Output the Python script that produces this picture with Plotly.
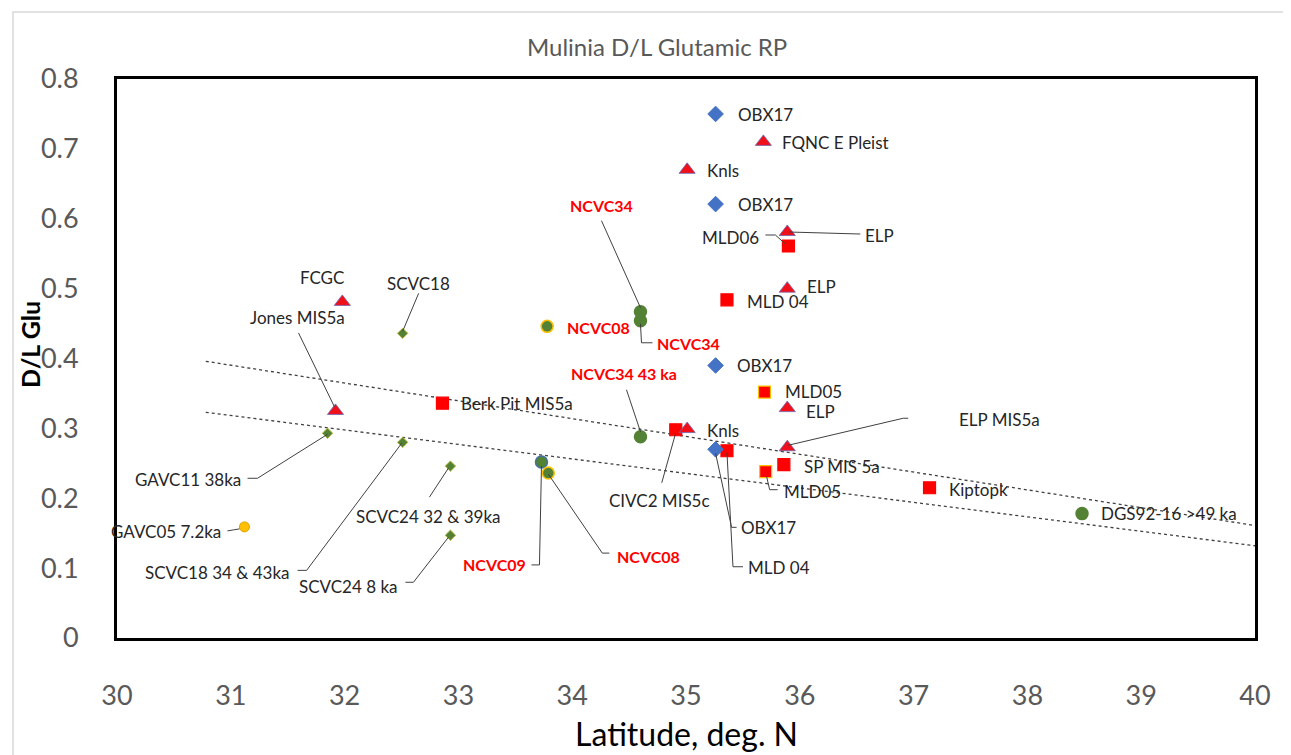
import plotly.graph_objects as go

# ---------------- data ----------------
# Blue diamonds (OBX17)
blue_lbl = ["OBX17", "OBX17", "OBX17", "OBX17"]
blue_lat = [35.26, 35.26, 35.26, 35.26]
blue_dl = [0.750, 0.621, 0.390, 0.270]

# Red triangles
tri_lbl = ["FQNC E Pleist", "Knls", "ELP", "ELP", "FCGC", "ELP", "Jones MIS5a", "Knls", "ELP MIS5a"]
tri_lat = [35.68, 35.01, 35.89, 35.89, 31.98, 35.89, 31.92, 35.01, 35.89]
tri_dl = [0.710, 0.670, 0.581, 0.500, 0.481, 0.329, 0.325, 0.299, 0.273]

# Red squares
sq_lbl = ["MLD06", "MLD 04", "MLD05", "Berk Pit MIS5a", "CIVC2 MIS5c", "MLD 04", "SP MIS 5a", "MLD05", "Kiptopk"]
sq_lat = [35.90, 35.36, 35.69, 32.86, 34.91, 35.36, 35.86, 35.70, 37.14]
sq_dl = [0.561, 0.484, 0.352, 0.336, 0.298, 0.268, 0.248, 0.238, 0.215]

# Green circles
gc_lbl = ["NCVC08", "NCVC34", "NCVC34", "NCVC09", "NCVC08", "NCVC34 43 ka", "DGS92-16 >49 ka"]
gc_lat = [33.78, 34.60, 34.60, 33.73, 33.79, 34.60, 38.48]
gc_dl = [0.446, 0.467, 0.454, 0.252, 0.236, 0.288, 0.178]

# Small green diamonds
gd_lbl = ["SCVC18", "GAVC11 38ka", "SCVC18 34 & 43ka", "SCVC24 32 & 39ka", "SCVC24 8 ka"]
gd_lat = [32.51, 31.85, 32.51, 32.93, 32.93]
gd_dl = [0.436, 0.293, 0.280, 0.246, 0.147]

# Yellow circle
yc_lbl = ["GAVC05 7.2ka"]
yc_lat = [31.12]
yc_dl = [0.159]

# Trend lines (dotted)
trend_lat = [30.78, 40.0]
trend_upper = [0.396, 0.161]
trend_lower = [0.323, 0.132]

x_ticks = [30, 31, 32, 33, 34, 35, 36, 37, 38, 39, 40]
y_ticks = [0, 0.1, 0.2, 0.3, 0.4, 0.5, 0.6, 0.7, 0.8]

# ---------------- label placement (styling, pixel offsets; y down) ----------------
# ("t", dx, dy, anchor)            -> plain text next to the mark
# ("e", dx, dy, anchor, path)      -> text plus a leader line (path offsets from the mark)
blue_pl = [("t", 20, 1, "left"), ("t", 20, 0, "left"), ("t", 19, 0, "left"),
           ("e", 23, 78, "left", [(0, 4), (16, 78), (21, 78)])]
tri_pl = [("t", 17, 1, "left"), ("t", 18, 1, "left"),
          ("e", 76, 3, "left", [(2, 0), (73, 2)]),
          ("t", 18, -2, "left"),
          ("t", -20, -24, "center"), ("t", 17, 3, "left"),
          ("e", -38, -93, "center", [(-1, -4), (-37, -78)]),
          ("t", 18, 1, "left"),
          ("e", 170, -28, "left", [(1, -2), (116, -29), (121, -29)])]
sq_pl = [("e", -27, -9, "right", [(-3, -2), (-13, -11), (-23, -11)]),
         ("t", 18, 2, "left"), ("t", 18, -1, "left"), ("t", 17, 0, "left"),
         ("e", -16, 71, "center", [(0, 3), (-14, 53)]),
         ("e", 19, 117, "left", [(0, 2), (6, 116), (16, 116)]),
         ("t", 18, 2, "left"),
         ("e", 16, 20, "left", [(1, 5), (4, 18), (12, 18)]),
         ("t", 17, 2, "left")]
gc_pl = [("t", 18, 1, "left"),
         ("e", -39, -106, "center", [(0, -4), (-39, -91)]),
         ("e", 15, 23, "left", [(0, 3), (1, 22), (12, 22)]),
         ("e", -13, 103, "right", [(0, 4), (-2, 103), (-10, 103)]),
         ("e", 67, 83, "left", [(0, 1), (54, 80), (61, 80)]),
         ("e", -16, -63, "center", [(0, -5), (-14, -47)]),
         ("t", 17, 0, "left")]
gc_red = [True, True, True, True, True, True, False]
gd_pl = [("e", 16, -50, "center", [(0, -2), (16, -40)]),
         ("e", -85, 46, "right", [(0, 1), (-70, 45), (-80, 45)]),
         ("e", -111, 130, "right", [(-1, 1), (-96, 128), (-105, 128)]),
         ("e", -22, 50, "center", [(-2, 2), (-21, 31)]),
         ("e", -51, 51, "right", [(-2, 2), (-37, 47), (-45, 47)])]
yc_pl = [("e", -21, 5, "right", [(-5, 2), (-11, 3), (-17, 4)])]

FONT = "Lato"
TXT = "#262626"
RED = "#FF0000"

fig = go.Figure()

# trend lines
for ys in (trend_upper, trend_lower):
    fig.add_trace(go.Scatter(x=trend_lat, y=ys, mode="lines",
                             line=dict(color="#404040", width=1.3, dash="dot"),
                             hoverinfo="skip", showlegend=False))

# markers
fig.add_trace(go.Scatter(x=gd_lat, y=gd_dl, mode="markers", text=gd_lbl, showlegend=False,
                         marker=dict(symbol="diamond", size=8, color="#548235",
                                     line=dict(color="#B8B840", width=1))))
fig.add_trace(go.Scatter(x=yc_lat, y=yc_dl, mode="markers", text=yc_lbl, showlegend=False,
                         marker=dict(symbol="circle", size=10, color="#FFC000",
                                     line=dict(color="#E0A000", width=1))))
gc_line = ["#FFC000", "#548235", "#548235", "#41719C", "#FFC000", "#548235", "#548235"]
fig.add_trace(go.Scatter(x=gc_lat, y=gc_dl, mode="markers", text=gc_lbl, showlegend=False,
                         marker=dict(symbol="circle", size=12, color="#548235",
                                     line=dict(color=gc_line, width=1.5))))
sq_line = ["#FF0000", "#FF0000", "#FFC000", "#FF0000", "#FF0000", "#FF0000", "#FF0000", "#FFC000", "#FF0000"]
fig.add_trace(go.Scatter(x=sq_lat, y=sq_dl, mode="markers", text=sq_lbl, showlegend=False,
                         marker=dict(symbol="square", size=12, color="#FF0000",
                                     line=dict(color=sq_line, width=1.2))))
fig.add_trace(go.Scatter(x=tri_lat, y=tri_dl, mode="markers", text=tri_lbl, showlegend=False,
                         marker=dict(symbol="triangle-up", size=14, color="#F0101A",
                                     line=dict(color="#6F63B0", width=0.8))))
fig.add_trace(go.Scatter(x=blue_lat, y=blue_dl, mode="markers", text=blue_lbl, showlegend=False,
                         marker=dict(symbol="diamond", size=12, color="#4472C4",
                                     line=dict(color="#4472C4", width=1))))


def add_labels(lats, dls, lbls, pls, reds=None):
    for i, (x, y, t, p) in enumerate(zip(lats, dls, lbls, pls)):
        red = reds[i] if reds is not None else False
        font = dict(family=FONT, size=16 if red else 17, color=RED if red else TXT)
        txt = "<b>%s</b>" % t if red else t
        fig.add_annotation(x=x, y=y, text=txt, showarrow=False, font=font,
                           xanchor=p[3], yanchor="middle", xshift=p[1], yshift=-p[2])
        if p[0] == "e":
            pts = p[4]
            path = "M" + " L".join("%g,%g" % (px, -py) for px, py in pts)
            fig.add_shape(type="path", xref="x", yref="y", xsizemode="pixel", ysizemode="pixel",
                          xanchor=x, yanchor=y, path=path,
                          line=dict(color="#404040", width=1), layer="above")


add_labels(blue_lat, blue_dl, blue_lbl, blue_pl)
add_labels(tri_lat, tri_dl, tri_lbl, tri_pl)
add_labels(sq_lat, sq_dl, sq_lbl, sq_pl)
add_labels(gc_lat, gc_dl, gc_lbl, gc_pl, gc_red)
add_labels(gd_lat, gd_dl, gd_lbl, gd_pl)
add_labels(yc_lat, yc_dl, yc_lbl, yc_pl)

# titles
fig.add_annotation(xref="paper", yref="paper", x=0.4745, y=1.059, text="Mulinia D/L Glutamic RP",
                   showarrow=False, font=dict(family=FONT, size=24, color="#595959"),
                   xanchor="center", yanchor="middle")
fig.add_annotation(xref="paper", yref="paper", x=0.5, y=-0.171, text="Latitude, deg. N",
                   showarrow=False, font=dict(family=FONT, size=32, color="#000000"),
                   xanchor="center", yanchor="middle")
fig.add_annotation(xref="paper", yref="paper", x=-0.0765, y=0.526, text="<b>D/L Glu</b>",
                   showarrow=False, textangle=-90, font=dict(family=FONT, size=25, color="#000000"),
                   xanchor="center", yanchor="middle")

# outer chart border
fig.add_shape(type="rect", xref="paper", yref="paper", x0=-0.0914, y0=-0.25, x1=1.06, y1=1.1199,
              line=dict(color="#D9D9D9", width=1.5), fillcolor="rgba(0,0,0,0)", layer="below")

fig.update_xaxes(range=[30, 40], tickvals=x_ticks, ticktext=[str(v) for v in x_ticks],
                 showgrid=False, zeroline=False, showline=True, mirror=True,
                 linecolor="black", linewidth=3, ticks="",
                 tickfont=dict(family=FONT, size=27, color="#595959"), ticklabelstandoff=32)
fig.update_yaxes(range=[0, 0.8], tickvals=y_ticks, ticktext=[("%g" % v) for v in y_ticks],
                 showgrid=False, zeroline=False, showline=True, mirror=True,
                 linecolor="black", linewidth=3, ticks="",
                 tickfont=dict(family=FONT, size=27, color="#595959"), ticklabelstandoff=30)

# the page body adds an 8px margin, so the figure is 8px smaller and margins are compensated
fig.update_layout(width=1283, height=747, margin=dict(l=109, r=36, t=71, b=117),
                  plot_bgcolor="white", paper_bgcolor="white", showlegend=False,
                  font=dict(family=FONT))

fig.write_html("out.html")
